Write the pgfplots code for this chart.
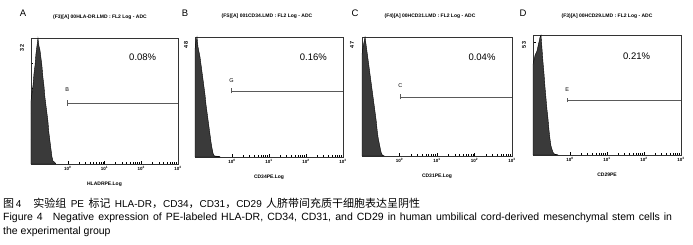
\documentclass[border=0pt]{standalone}
\usepackage{pgfplots}
\pgfplotsset{compat=1.18}
\usepackage{pgfplotstable}
\usepackage{fontspec}
\setmainfont{Liberation Sans}
\newfontfamily\cjk{Noto Sans CJK SC}
\definecolor{histfill}{HTML}{3A3A3A}
\definecolor{gatecol}{HTML}{5A5A5A}

\pgfplotstableread{
x n
0.1000 16
0.1064 18
0.1133 20
0.1206 23
0.1283 25
0.1365 28
0.1453 30
0.1546 32
0.1645 30
0.1750 29
0.1863 27
0.1982 25
0.2110 22
0.2245 20
0.2389 17
0.2543 15
0.2706 13
0.2880 11
0.3065 8
0.3262 6
0.3471 4
0.3694 2
0.3931 0.8
0.4453 0.4
0.4739 0
}\histA
\pgfplotstableread{
x n
0.1000 43
0.1064 46
0.1133 48
0.1206 44
0.1283 42
0.1365 40
0.1453 37
0.1546 34
0.1645 31
0.1750 28
0.1863 25
0.1982 21
0.2110 18
0.2245 15
0.2389 12
0.2543 9
0.2706 6
0.2880 3.5
0.3065 1.5
0.3262 0.6
0.3471 0.3
0.3694 0.4
0.3931 0.2
0.4453 0.3
0.4739 0
}\histB
\pgfplotstableread{
x n
0.1000 40
0.1064 43
0.1133 45
0.1206 47
0.1283 44
0.1365 41
0.1453 38
0.1546 35
0.1645 32
0.1750 29
0.1863 26
0.1982 23
0.2110 20
0.2245 17
0.2389 14
0.2543 10
0.2706 7
0.2880 5
0.3065 3
0.3262 1.2
0.3471 0.4
0.3694 0.2
0.3931 0
}\histC
\pgfplotstableread{
x n
0.1000 40
0.1064 42
0.1133 44
0.1206 45
0.1283 46
0.1365 48
0.1453 50
0.1546 52
0.1645 53
0.1750 47
0.1863 41
0.1982 36
0.2110 30
0.2245 25
0.2389 20
0.2543 16
0.2706 11
0.2880 7
0.3065 4
0.3262 2.5
0.3471 1.2
0.3694 0.6
0.3931 0.3
0.4453 0.2
0.4739 0
}\histD

\pgfplotsset{
  facs/.style={
    scale only axis,
    anchor=south west,
    xmin=0.1, xmax=1000,
    ymin=0,
    xtick={1,10,100,1000},
    xticklabels={10\textsuperscript{0},10\textsuperscript{1},10\textsuperscript{2},10\textsuperscript{3}},
    xtick pos=bottom, ytick pos=left,
    yticklabels={},
    major tick length=2.5pt,
    minor tick length=1.5pt,
    tick style={black, line width=0.4pt},
    axis line style={black!80, line width=0.6pt},
    ticklabel style={font=\fontsize{4.5}{5}\selectfont\bfseries},
    xticklabel style={yshift=1pt},
    xlabel style={font=\fontsize{5}{6}\selectfont\bfseries, yshift=-4pt},
    clip=false,
  }
}

\begin{document}
\begin{tikzpicture}
\path (0pt,0pt) rectangle (693pt,-245pt);

% Panel A
\node[font=\fontsize{9.5}{11}\selectfont] at (23pt,-13pt) {A};
\node[font=\fontsize{5}{6}\selectfont\bfseries] at (100pt,-17pt) {(F3)[A] 00HLA-DR.LMD : FL2 Log - ADC};
\node[font=\fontsize{5.5}{6}\selectfont\bfseries, rotate=90] at (22pt,-48pt) {32};
\begin{axis}[xmode=log, facs, at={(31pt,-164pt)}, width=147pt, height=126pt, ymax=32,
  ytick={0,6.4,12.8,19.2,25.6,32}, xlabel={HLADRPE.Log}]
\addplot[fill=histfill, draw=black, line width=0.4pt] table[x=x,y=n] {\histA} \closedcycle;
\addplot[gatecol, line width=0.5pt] coordinates {(0.94,15.5) (1000,15.5)};
\addplot[gatecol, line width=0.5pt] coordinates {(0.94,14.8) (0.94,16.2)};
\node[font=\fontsize{5.5}{6}\selectfont] at (axis cs:0.97,18.8) {B};
\node[font=\fontsize{9.5}{11}\selectfont] at (rel axis cs:0.76,0.85) {0.08\%};
\end{axis}

% Panel B
\node[font=\fontsize{9.5}{11}\selectfont] at (185pt,-13pt) {B};
\node[font=\fontsize{5}{6}\selectfont\bfseries] at (267pt,-16pt) {(FS)[A] 001CD34.LMD : FL2 Log - ADC};
\node[font=\fontsize{5.5}{6}\selectfont\bfseries, rotate=90] at (186pt,-45pt) {48};
\begin{axis}[xmode=log, facs, at={(195pt,-157pt)}, width=148pt, height=120pt, ymax=48,
  ytick={0,10.7,21.3,32,42.7}, xlabel={CD34PE.Log}]
\addplot[fill=histfill, draw=black, line width=0.4pt] table[x=x,y=n] {\histB} \closedcycle;
\addplot[gatecol, line width=0.5pt] coordinates {(0.94,26.4) (1000,26.4)};
\addplot[gatecol, line width=0.5pt] coordinates {(0.94,25.4) (0.94,27.4)};
\node[font=\fontsize{5.5}{6}\selectfont] at (axis cs:0.97,30.4) {G};
\node[font=\fontsize{9.5}{11}\selectfont] at (rel axis cs:0.80,0.83) {0.16\%};
\end{axis}

% Panel C
\node[font=\fontsize{9.5}{11}\selectfont] at (355pt,-13pt) {C};
\node[font=\fontsize{5}{6}\selectfont\bfseries] at (430pt,-16pt) {(F4)[A] 00HCD31.LMD : FL2 Log - ADC};
\node[font=\fontsize{5.5}{6}\selectfont\bfseries, rotate=90] at (352pt,-45pt) {47};
\begin{axis}[xmode=log, facs, at={(362pt,-156pt)}, width=150pt, height=119pt, ymax=47,
  ytick={0,10.2,20.4,30.6,40.8}, xlabel={CD31PE.Log}]
\addplot[fill=histfill, draw=black, line width=0.4pt] table[x=x,y=n] {\histC} \closedcycle;
\addplot[gatecol, line width=0.5pt] coordinates {(1.02,23.4) (1000,23.4)};
\addplot[gatecol, line width=0.5pt] coordinates {(1.02,22.4) (1.02,24.4)};
\node[font=\fontsize{5.5}{6}\selectfont] at (axis cs:1.05,27.7) {C};
\node[font=\fontsize{9.5}{11}\selectfont] at (rel axis cs:0.80,0.83) {0.04\%};
\end{axis}

% Panel D
\node[font=\fontsize{9.5}{11}\selectfont] at (523pt,-13pt) {D};
\node[font=\fontsize{5}{6}\selectfont\bfseries] at (607pt,-16pt) {(F3)[A] 00HCD29.LMD : FL2 Log - ADC};
\node[font=\fontsize{5.5}{6}\selectfont\bfseries, rotate=90] at (524pt,-45pt) {53};
\begin{axis}[xmode=log, facs, at={(533pt,-155pt)}, width=148pt, height=120pt, ymax=53,
  ytick={0,10,20,30,40,50}, xlabel={CD29PE}]
\addplot[fill=histfill, draw=black, line width=0.4pt] table[x=x,y=n] {\histD} \closedcycle;
\addplot[gatecol, line width=0.5pt] coordinates {(0.82,24.3) (1000,24.3)};
\addplot[gatecol, line width=0.5pt] coordinates {(0.82,23.3) (0.82,25.3)};
\node[font=\fontsize{5.5}{6}\selectfont] at (axis cs:0.84,28.8) {E};
\node[font=\fontsize{9.5}{11}\selectfont] at (rel axis cs:0.70,0.82) {0.21\%};
\end{axis}

% Caption
\node[anchor=west, font=\fontsize{10}{11}\selectfont, inner sep=0pt] at (3pt,-203pt)
  {\hbox to 417pt{{\fontsize{11}{12}\cjk 图}\,4\hspace{12pt}{\fontsize{11}{12}\cjk 实验组} PE {\fontsize{11}{12}\cjk 标记} HLA-DR{\fontsize{11}{12}\cjk ，}CD34{\fontsize{11}{12}\cjk ，}CD31{\fontsize{11}{12}\cjk ，}CD29 {\fontsize{11}{12}\cjk 人脐带间充质干细胞表达呈阴性}}};
\node[anchor=west, font=\fontsize{10.5}{12}\selectfont, inner sep=0pt] at (3pt,-218pt)
  {\hbox to 669pt{Figure 4\hspace{10pt}Negative expression of PE-labeled HLA-DR, CD34, CD31, and CD29 in human umbilical cord-derived mesenchymal stem cells in}};
\node[anchor=west, font=\fontsize{10.5}{12}\selectfont, inner sep=0pt] at (3pt,-232pt)
  {the experimental group};
\end{tikzpicture}
\end{document}
